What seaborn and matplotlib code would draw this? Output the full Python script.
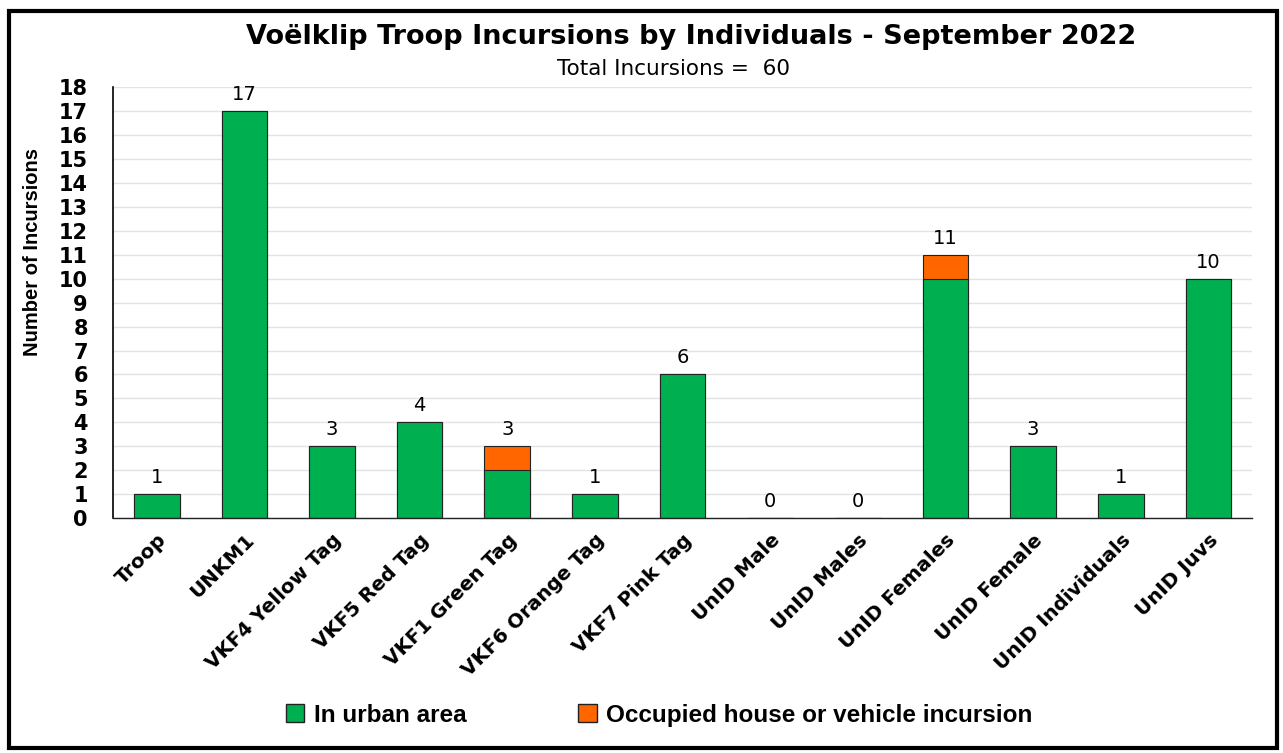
import numpy as np
import pandas as pd
import matplotlib
matplotlib.use("Agg")
import matplotlib.pyplot as plt
import seaborn as sns
from matplotlib.patches import Rectangle, Patch

# Dữ liệu
individuals = ['Troop', 'UNKM1', 'VKF4 Yellow Tag', 'VKF5 Red Tag', 'VKF1 Green Tag',
               'VKF6 Orange Tag', 'VKF7 Pink Tag', 'UnID Male', 'UnID Males',
               'UnID Females', 'UnID Female', 'UnID Individuals', 'UnID Juvs']
urban = [1, 17, 3, 4, 2, 1, 6, 0, 0, 10, 3, 1, 10]
occupied = [0, 0, 0, 0, 1, 0, 0, 0, 0, 1, 0, 0, 0]

GREEN = '#00b050'
ORANGE = '#ff6600'
NARROW = ['Liberation Sans Narrow', 'Liberation Sans', 'DejaVu Sans']

df = pd.DataFrame({'individual': individuals, 'urban': urban, 'occupied': occupied})
df['total'] = df['urban'] + df['occupied']

sns.set_style('white')
plt.rcParams['font.family'] = ['DejaVu Sans']
plt.rcParams['text.color'] = 'black'
plt.rcParams['axes.labelcolor'] = 'black'
plt.rcParams['xtick.color'] = 'black'
plt.rcParams['ytick.color'] = 'black'

fig = plt.figure(figsize=(12.83, 7.53), dpi=100)
ax = fig.add_axes([0.088, 0.312, 0.888, 0.572])

# cột tổng (màu cam) vẽ trước, cột xanh phủ lên
sns.barplot(data=df, x='individual', y='total', color=ORANGE, saturation=1,
            width=0.52, edgecolor='#222222', linewidth=0.8, ax=ax)
sns.barplot(data=df, x='individual', y='urban', color=GREEN, saturation=1,
            width=0.52, edgecolor='#222222', linewidth=0.8, ax=ax)

# nhãn giá trị
for i, t in enumerate(df['total']):
    ax.text(i, t + 0.3, str(t), ha='center', va='bottom', fontsize=14)

ax.set_ylim(0, 18)
ax.set_xlim(-0.5, len(individuals) - 0.5)
ax.set_yticks(range(0, 19))
ax.set_yticklabels([str(v) for v in range(0, 19)], fontsize=15, fontweight='bold')
ax.set_xticks(range(len(individuals)))
ax.set_xticklabels(individuals, rotation=45, ha='right', rotation_mode='anchor',
                   fontsize=14.3, fontweight='bold')
ax.tick_params(axis='x', length=0, pad=9)
ax.tick_params(axis='y', length=0, pad=18)
ax.set_xlabel('')
ax.set_ylabel('Number of Incursions', fontsize=14.5, fontweight='bold', family=NARROW)
ax.yaxis.set_label_coords(-0.062, 0.617)
ax.yaxis.grid(True, color='#e3e3e3', linewidth=1)
ax.set_axisbelow(True)
for s in ['top', 'right']:
    ax.spines[s].set_visible(False)
ax.spines['left'].set_color('black')
ax.spines['left'].set_linewidth(1.2)
ax.spines['bottom'].set_color('#222222')
ax.spines['bottom'].set_linewidth(1.0)

fig.text(0.539, 0.951, 'Voëlklip Troop Incursions by Individuals - September 2022',
         ha='center', va='center', fontsize=19.5, fontweight='bold')
fig.text(0.525, 0.908, 'Total Incursions =  60', ha='center', va='center', fontsize=15.5)

handles = [Patch(facecolor=GREEN, edgecolor='#222222', label='In urban area'),
           Patch(facecolor=ORANGE, edgecolor='#222222', label='Occupied house or vehicle incursion')]
fig.legend(handles=handles, loc='center', bbox_to_anchor=(0.514, 0.05), ncol=2,
           frameon=False, columnspacing=4.6, handlelength=0.75, handleheight=0.75,
           handletextpad=0.4,
           prop={'family': NARROW, 'weight': 'bold', 'size': 17.5})

# khung viền ngoài
fig.patches.append(Rectangle((0.007, 0.007), 0.988, 0.978, transform=fig.transFigure,
                             fill=False, edgecolor='black', linewidth=3))

fig.savefig('out.png', dpi=100)
plt.close(fig)
